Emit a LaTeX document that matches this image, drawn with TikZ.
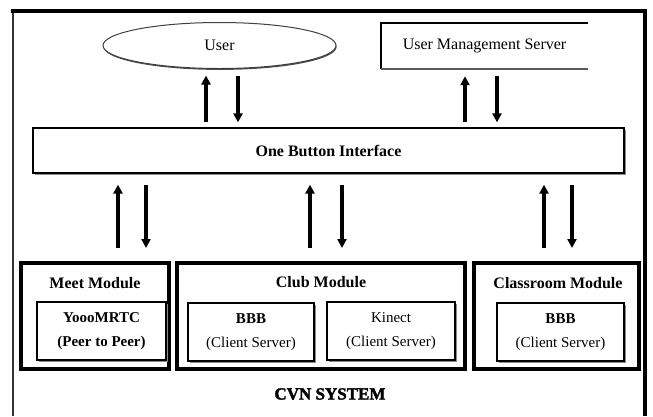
\documentclass[tikz,border=0pt]{standalone}
\usepackage{fontspec}
\setmainfont{Liberation Serif}
\newfontfamily\heavyfont[BoldFeatures={FakeBold=2}]{Liberation Serif}
\usetikzlibrary{arrows.meta,shapes.geometric,shadows}

\tikzset{
  frameline/.style={line width=4pt, black},
  modbox/.style={draw, line width=4pt, rectangle, minimum width=#1, minimum height=106pt, inner sep=0pt},
  subbox/.style={draw, line width=1.3pt, rectangle, fill=white, minimum width=#1, minimum height=58pt,
    inner sep=0pt, align=center, font=\fontsize{15}{24}\selectfont,
    drop shadow={shadow xshift=1.6pt, shadow yshift=-1.6pt, fill=black!45, opacity=1}},
  title/.style={font=\fontsize{16}{18}\selectfont\bfseries, inner sep=0pt},
  link/.style={line width=3.4pt, -{Triangle[width=9pt,length=9pt]}, shorten >=-1pt},
}

\begin{document}
\begin{tikzpicture}[x=1pt,y=-1pt]
\useasboundingbox (0,0) rectangle (653,416);

% outer system frame (open at the bottom)
\draw[line width=2.5pt, black!80] (13,11) -- (13,416);
\draw[frameline] (11,11) -- (647,11);
\draw[frameline] (645,9) -- (645,416);

% top row: user and the management server
\node[draw=black!75, line width=1pt, ellipse, fill=white, minimum width=233pt, minimum height=46pt, inner sep=0pt,
      font=\fontsize{16}{18}\selectfont,
      drop shadow={shadow xshift=0.6pt, shadow yshift=-1.4pt, fill=black!70, opacity=1}]
      (user) at (219.5,45.5) {User};
\node[minimum width=207pt, minimum height=46pt, inner sep=0pt, font=\fontsize{16}{18}\selectfont]
      (ums) at (484.5,46) {\raisebox{3pt}{User Management Server}};
\draw[line width=1.5pt] (ums.north east) -- (ums.north west) -- (ums.south west);
\draw[line width=2pt, black!65] (ums.south west) -- (ums.south east);

% interface bar
\node[draw, line width=1.3pt, fill=white, minimum width=591pt, minimum height=45pt, inner sep=0pt,
      font=\fontsize{16}{18}\selectfont\bfseries,
      drop shadow={shadow xshift=1.6pt, shadow yshift=-1.6pt, fill=black!45, opacity=1}]
      (obi) at (328.5,150.5) {One Button Interface};

% modules
\node[modbox=148pt] (meet) at (95,316) {};
\node[modbox=288pt] (club) at (321,316) {};
\node[modbox=165pt] (class) at (556.5,316) {};

\node[title] (meett) at (95,283) {Meet Module};
\node[title] (clubt) at (321,282) {Club Module};
\node[title] (classt) at (558,283) {Classroom Module};

\node[subbox=129pt] (yooo) at (101.5,331) {\textbf{YoooMRTC}\\\textbf{(Peer to Peer)}};
\node[subbox=126pt] (bbba) at (251,332) {\textbf{BBB}\\(Client Server)};
\node[subbox=128pt] (kin) at (391,331) {Kinect\\(Client Server)};
\node[subbox=127pt] (bbbb) at (560.5,332) {\textbf{BBB}\\(Client Server)};

\node[font=\fontsize{17}{19}\selectfont\heavyfont\bfseries, inner sep=0pt] (cvn) at (330,394) {CVN SYSTEM};

% links between user / server and the interface
\draw[link] ([xshift=-122.5pt,yshift=5pt]obi.north) -- ([xshift=-13.5pt,yshift=-7.5pt]user.south);
\draw[link] ([xshift=18.5pt,yshift=-6.5pt]user.south) -- ([xshift=-90.5pt,yshift=6pt]obi.north);
\draw[link] ([xshift=136.5pt,yshift=5pt]obi.north) -- ([xshift=-19.5pt,yshift=-8pt]ums.south);
\draw[link] ([xshift=12.5pt,yshift=-7pt]ums.south) -- ([xshift=168.5pt,yshift=6pt]obi.north);

% links between the interface and the modules
\draw[link] ([xshift=23pt,yshift=13pt]meet.north) -- ([xshift=-210.5pt,yshift=-12pt]obi.south);
\draw[link] ([xshift=-182.5pt,yshift=-11pt]obi.south) -- ([xshift=51pt,yshift=14pt]meet.north);
\draw[link] ([xshift=-11pt,yshift=13pt]club.north) -- ([xshift=-18.5pt,yshift=-12pt]obi.south);
\draw[link] ([xshift=13.5pt,yshift=-11pt]obi.south) -- ([xshift=21pt,yshift=14pt]club.north);
\draw[link] ([xshift=-12.5pt,yshift=13pt]class.north) -- ([xshift=215.5pt,yshift=-12pt]obi.south);
\draw[link] ([xshift=243.5pt,yshift=-11pt]obi.south) -- ([xshift=15.5pt,yshift=14pt]class.north);
\end{tikzpicture}
\end{document}
